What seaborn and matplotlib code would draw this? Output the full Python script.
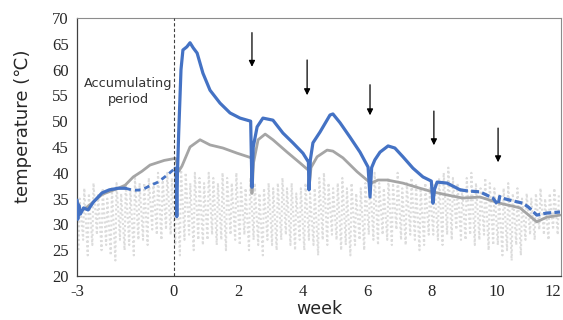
import numpy as np
import pandas as pd
import seaborn as sns
import matplotlib
matplotlib.use("Agg")
from matplotlib import pyplot as plt

# ambient temperature: daily highs / lows, day -21 .. day 83
amb_high = [35, 37, 36, 38, 36, 37, 35,
            37, 38, 36, 38, 37, 39, 38,
            38, 39, 38, 40, 39, 40, 39,
            39, 41, 40, 38, 40, 39, 38,
            40, 39, 38, 40, 39, 38, 40,
            38, 37, 39, 38, 36, 37, 38,
            37, 38, 39, 37, 38, 36, 37,
            38, 36, 37, 39, 40, 38, 37,
            38, 39, 37, 38, 36, 37, 38,
            39, 40, 38, 37, 39, 38, 40,
            37, 38, 39, 38, 37, 38, 37,
            38, 39, 40, 41, 39, 38, 37,
            39, 40, 38, 37, 39, 38, 37,
            36, 37, 38, 36, 37, 35, 36,
            35, 36, 37, 35, 36, 37, 36]
amb_low = [25, 27, 24, 26, 28, 25, 26,
           24, 23, 27, 25, 26, 24, 27,
           27, 26, 29, 28, 27, 29, 28,
           26, 24, 27, 28, 25, 27, 26,
           27, 28, 26, 27, 25, 28, 27,
           26, 28, 25, 27, 26, 24, 27,
           26, 25, 27, 28, 26, 25, 27,
           25, 27, 26, 24, 27, 26, 28,
           27, 25, 26, 24, 26, 27, 25,
           28, 27, 26, 28, 27, 26, 29,
           27, 26, 28, 27, 25, 26, 28,
           28, 27, 26, 28, 27, 29, 27,
           27, 28, 26, 27, 28, 25, 26,
           26, 24, 25, 23, 26, 24, 27,
           28, 27, 29, 28, 27, 29, 28]

# blue series (week, temp), split where the record is sparse
blue1_w = [-3.0, -2.98, -2.95, -2.9, -2.8, -2.66, -2.5, -2.23, -2.0, -1.73, -1.5]
blue1_t = [34.7, 31.0, 33.8, 32.0, 33.2, 32.8, 34.3, 36.1, 36.7, 37.0, 37.0]
blue2_w = [-1.5, -1.25, -0.99, -0.74, -0.49, -0.2, 0.04]
blue2_t = [37.0, 36.6, 36.7, 37.5, 38.2, 39.6, 40.9]
blue3_w = [0.04, 0.07, 0.09, 0.11, 0.15, 0.22, 0.28, 0.4, 0.5, 0.6, 0.72, 0.9,
           1.12, 1.43, 1.74, 2.05, 2.38, 2.42, 2.46, 2.58, 2.76, 3.07, 3.38,
           3.69, 4.0, 4.17, 4.19, 4.23, 4.31, 4.53, 4.84, 4.93, 5.15, 5.46,
           5.77, 6.02, 6.08, 6.13, 6.23, 6.39, 6.64, 6.85, 7.1, 7.41, 7.72,
           7.98, 8.03, 8.08, 8.16, 8.47, 8.78, 8.87]
blue3_t = [40.9, 39.5, 31.5, 40.0, 48.0, 60.0, 63.8, 64.4, 65.2, 64.2, 63.2, 59.3,
           56.0, 53.5, 51.6, 50.6, 50.0, 37.2, 45.0, 48.9, 50.6, 50.2, 47.7,
           45.8, 43.8, 42.1, 36.7, 42.5, 45.8, 47.9, 51.2, 51.4, 49.7, 46.9,
           44.0, 41.1, 35.3, 41.0, 42.5, 44.0, 45.2, 44.8, 43.1, 40.9, 39.2,
           38.4, 34.1, 36.8, 38.2, 38.0, 37.0, 36.7]
blue4_w = [8.87, 9.09, 9.49, 9.89, 10.02, 10.05, 10.1, 10.17, 10.42, 10.82,
           11.0, 11.25, 11.56, 11.97]
blue4_t = [36.7, 36.5, 36.3, 35.1, 34.0, 33.8, 35.4, 35.1, 34.7, 34.1,
           33.3, 31.8, 32.2, 32.4]

# grey series (week, temp)
grey_w = [-3.0, -2.9, -2.66, -2.23, -1.73, -1.51, -1.26, -0.99, -0.74, -0.3,
          0.05, 0.15, 0.25, 0.5, 0.81, 1.12, 1.52, 1.96, 2.4, 2.42, 2.47,
          2.61, 2.83, 3.07, 3.51, 3.91, 4.17, 4.19, 4.25, 4.44, 4.75, 4.93,
          5.24, 5.68, 6.06, 6.08, 6.12, 6.33, 6.61, 7.1, 7.63, 8.03, 8.47,
          8.96, 9.49, 10.11, 10.73, 11.25, 11.56, 11.97]
grey_t = [34.5, 32.5, 33.5, 35.8, 37.0, 37.6, 39.2, 40.3, 41.5, 42.4,
          42.8, 40.3, 41.3, 45.0, 46.4, 45.4, 44.8, 43.8, 42.9, 36.0, 42.0,
          46.4, 47.5, 46.4, 44.0, 41.9, 40.5, 37.0, 41.0, 43.1, 44.4, 44.2,
          42.9, 40.2, 38.2, 37.0, 38.0, 38.6, 38.6, 38.0, 37.0, 36.3, 35.7,
          35.1, 35.3, 34.1, 33.2, 30.5, 31.4, 31.8]

turn_weeks = [2.42, 4.13, 6.08, 8.06, 10.05]
arrow_top = [67.7, 62.4, 57.6, 52.5, 49.2]
arrow_tip = [60.0, 54.5, 50.6, 44.8, 41.5]

tick_weeks = [-3, 0, 2, 4, 6, 8, 10, 12]

BLUE = "#4472C4"
GREY = "#A5A5A5"
LIGHT = "#DCDCDC"

sns.set_style("white")
plt.rcParams["font.family"] = ["DejaVu Sans"]

# steep zigzag through daily lows and highs
days = np.arange(-21, 84)
amb_x, amb_y = [], []
for d, lo, hi in zip(days, amb_low, amb_high):
    amb_x += [(d + 0.3) / 7, (d + 0.55) / 7]
    amb_y += [lo, hi]
df_amb = pd.DataFrame({"week": amb_x, "temp": amb_y})

fig = plt.figure(figsize=(5.63, 3.2), dpi=100)
ax = fig.add_axes([0.137, 0.1375, 0.8594, 0.8063])

sns.lineplot(data=df_amb, x="week", y="temp", ax=ax, color=LIGHT, lw=1.5,
             linestyle=(0, (1, 1.2)), sort=False, estimator=None, zorder=1)
sns.lineplot(x=grey_w, y=grey_t, ax=ax, color=GREY, lw=2.0, sort=False,
             estimator=None, zorder=2)
sns.lineplot(x=blue1_w, y=blue1_t, ax=ax, color=BLUE, lw=2.3, sort=False,
             estimator=None, zorder=3)
sns.lineplot(x=blue2_w, y=blue2_t, ax=ax, color=BLUE, lw=2.0, linestyle=(0, (2, 1.5)),
             sort=False, estimator=None, zorder=3)
sns.lineplot(x=blue3_w, y=blue3_t, ax=ax, color=BLUE, lw=2.3, sort=False,
             estimator=None, zorder=3)
sns.lineplot(x=blue4_w, y=blue4_t, ax=ax, color=BLUE, lw=2.3, linestyle=(0, (2.5, 1)),
             sort=False, estimator=None, zorder=3)

ax.axvline(0, color="#404040", lw=0.8, linestyle=(0, (3, 2)), zorder=4)

for w, top, tip in zip(turn_weeks, arrow_top, arrow_tip):
    ax.annotate("", xy=(w, tip), xytext=(w, top),
                arrowprops=dict(arrowstyle="-|>", color="black", lw=0.9,
                                mutation_scale=9))

ax.text(-1.42, 55.8, "Accumulating\nperiod", ha="center", va="center",
        fontsize=9.3, color="#333333", linespacing=1.25)

ax.set_xlim(-3, 12)
ax.set_ylim(20, 70)
ax.set_xticks(tick_weeks)
ax.set_xticklabels([str(t) for t in tick_weeks])
ax.set_yticks(range(20, 71, 5))
for lab in ax.get_xticklabels() + ax.get_yticklabels():
    lab.set_family("Liberation Serif")
    lab.set_fontsize(12)
ax.get_xticklabels()[-1].set_horizontalalignment("right")
ax.tick_params(axis="y", length=4, width=0.8, color="#404040", direction="out", pad=2)
ax.tick_params(axis="x", length=0, pad=6)

ax.set_xlabel("week", fontsize=12.5, labelpad=0)
ax.set_ylabel("temperature (℃)", fontsize=13)
ax.yaxis.set_label_coords(-0.093, 0.58)

for side in ["left", "bottom"]:
    ax.spines[side].set_color("#404040")
    ax.spines[side].set_linewidth(0.9)
for side in ["top", "right"]:
    ax.spines[side].set_color("#8c8c8c")
    ax.spines[side].set_linewidth(0.8)

fig.savefig("out.png", dpi=100)
